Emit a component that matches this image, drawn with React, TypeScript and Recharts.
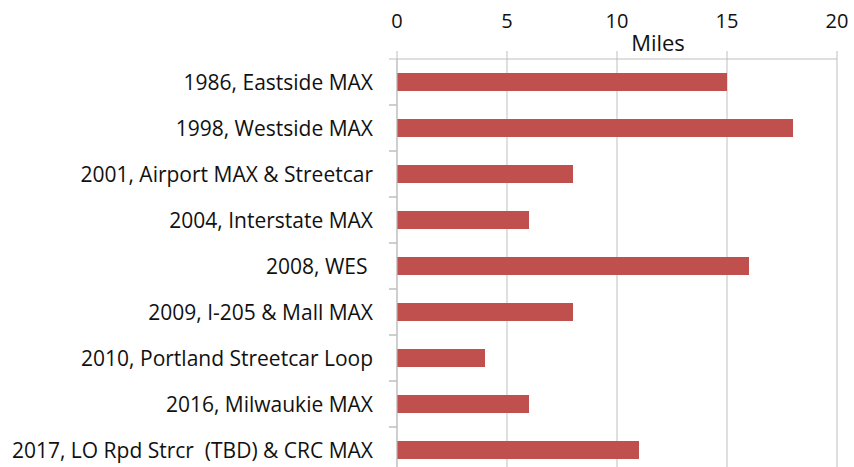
import { BarChart, Bar, XAxis, YAxis, CartesianGrid } from 'recharts';

const projects = [
  '1986, Eastside MAX',
  '1998, Westside MAX',
  '2001, Airport MAX & Streetcar',
  '2004, Interstate MAX',
  '2008, WES ',
  '2009, I-205 & Mall MAX',
  '2010, Portland Streetcar Loop',
  '2016, Milwaukie MAX',
  '2017, LO Rpd Strcr  (TBD) & CRC MAX',
];
const miles = [15, 18, 8, 6, 16, 8, 4, 6, 11];
const mileTicks = [0, 5, 10, 15, 20];

const data = projects.map((name, i) => ({ name, miles: miles[i] }));

const font = '"Open Sans", "Noto Sans", sans-serif';
const gray = '#BFBFBF';

// label plus the small boundary ticks Excel draws between categories
const CategoryTick = (props: any) => {
  const { x, y, payload } = props;
  const axisX = x + 24;
  return (
    <g>
      <line x1={axisX - 8} x2={axisX} y1={y - 23} y2={y - 23} stroke={gray} />
      <line x1={axisX - 8} x2={axisX} y1={y + 23} y2={y + 23} stroke={gray} />
      <text
        x={x}
        y={y}
        dy={8}
        textAnchor="end"
        fill="#111"
        fontSize={21}
        fontFamily={font}
        style={{ whiteSpace: 'pre' }}
      >
        {payload.value}
      </text>
    </g>
  );
};

export default function App() {
  return (
    <div style={{ position: 'absolute', left: 0, top: 0, background: '#fff' }}>
      <BarChart
        width={854}
        height={480}
        data={data}
        layout="vertical"
        margin={{ top: 0, right: 17, left: 0, bottom: 7 }}
      >
        <CartesianGrid horizontal={false} stroke={gray} />
        <XAxis
          type="number"
          orientation="top"
          domain={[0, 20]}
          ticks={mileTicks}
          height={59}
          tickSize={8}
          tickMargin={23}
          stroke={gray}
          tick={{ fill: '#111', fontSize: 20, fontFamily: font }}
          label={{
            value: 'Miles',
            position: 'insideBottom',
            offset: 8,
            dx: 41,
            fill: '#111',
            fontSize: 22,
            fontFamily: font,
          }}
        />
        <YAxis
          type="category"
          dataKey="name"
          width={397}
          tickSize={0}
          tickMargin={24}
          stroke={gray}
          tick={<CategoryTick />}
        />
        <Bar dataKey="miles" fill="#C0504D" barSize={18} isAnimationActive={false} />
      </BarChart>
    </div>
  );
}
